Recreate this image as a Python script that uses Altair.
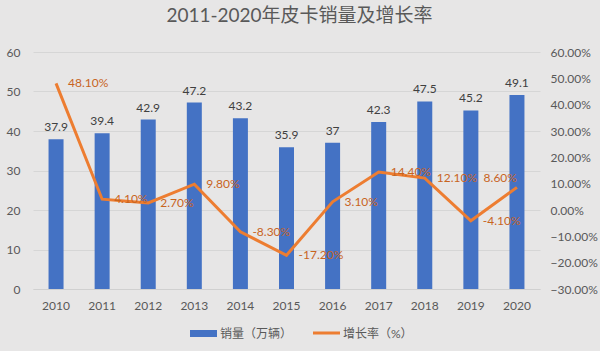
import altair as alt
import pandas as pd

years = ["2010", "2011", "2012", "2013", "2014", "2015", "2016", "2017", "2018", "2019", "2020"]
sales = [37.9, 39.4, 42.9, 47.2, 43.2, 35.9, 37, 42.3, 47.5, 45.2, 49.1]
growth = [0.481, 0.041, 0.027, 0.098, -0.083, -0.172, 0.031, 0.144, 0.121, -0.041, 0.086]
sales_labels = ["37.9", "39.4", "42.9", "47.2", "43.2", "35.9", "37", "42.3", "47.5", "45.2", "49.1"]
growth_labels = ["48.10%", "4.10%", "2.70%", "9.80%", "-8.30%", "-17.20%", "3.10%", "14.40%", "12.10%", "-4.10%", "8.60%"]
legend_names = ["销量（万辆）", "增长率（%）"]
title_text = "2011-2020年皮卡销量及增长率"

df = pd.DataFrame({"year": years, "sales": sales, "growth": growth,
                   "slab": sales_labels, "glab": growth_labels})

FONT = "Lato, Noto Sans CJK SC, sans-serif"
BLUE = "#4472C4"
ORANGE = "#ED7D31"
GREY_TXT = "#595959"

base = alt.Chart(df)

x_enc = alt.X("year:N", sort=years, title=None,
              scale=alt.Scale(paddingInner=0, paddingOuter=0),
              axis=alt.Axis(labelAngle=0, ticks=False, domain=True, domainColor="#D0D0D0",
                            labelPadding=11, labelFontSize=12, labelColor=GREY_TXT,
                            labelFont=FONT, grid=False))

y_left = alt.Y("sales:Q", title=None,
               scale=alt.Scale(domain=[0, 60], nice=False),
               axis=alt.Axis(values=[0, 10, 20, 30, 40, 50, 60], ticks=False, domain=False,
                             labelPadding=13, labelFontSize=12, labelColor=GREY_TXT,
                             labelFont=FONT, grid=True, gridColor="#D6D6D6", gridWidth=1))

y_right = alt.Y("growth:Q", title=None,
                scale=alt.Scale(domain=[-0.3, 0.6], nice=False),
                axis=alt.Axis(orient="right", format=".2%",
                              values=[-0.3, -0.2, -0.1, 0, 0.1, 0.2, 0.3, 0.4, 0.5, 0.6],
                              ticks=False, domain=False, grid=False,
                              labelPadding=10, labelFontSize=12, labelColor=GREY_TXT,
                              labelFont=FONT))

bars = base.mark_bar(color=BLUE, size=15).encode(x=x_enc, y=y_left)
bar_text = base.mark_text(baseline="bottom", dy=-5, fontSize=12, color="#404040",
                          font=FONT).encode(x=x_enc, y=y_left, text="slab:N")

line = base.mark_line(color=ORANGE, strokeWidth=3).encode(x=x_enc, y=y_right)
line_text = base.transform_filter(alt.datum.year != years[-1]).mark_text(
    align="left", baseline="middle", dx=12, fontSize=12,
    color="#C8641E", font=FONT).encode(x=x_enc, y=y_right, text="glab:N")
line_text_last = base.transform_filter(alt.datum.year == years[-1]).mark_text(
    align="right", baseline="middle", dx=0, dy=-9, fontSize=12,
    color="#C8641E", font=FONT).encode(x=x_enc, y=y_right, text="glab:N")

leg_df = pd.DataFrame({"name": legend_names})
leg_rect = alt.Chart(leg_df).transform_filter(alt.datum.name == legend_names[0]).mark_rect(
    color=BLUE).encode(x=alt.value(157), x2=alt.value(184), y=alt.value(278), y2=alt.value(285))
leg_rect_text = alt.Chart(leg_df).transform_filter(alt.datum.name == legend_names[0]).mark_text(
    align="left", baseline="middle", fontSize=12, color=GREY_TXT, font=FONT).encode(
    x=alt.value(187), y=alt.value(282), text="name:N")
leg_line = alt.Chart(leg_df).transform_filter(alt.datum.name == legend_names[1]).mark_rule(
    color=ORANGE, strokeWidth=3).encode(x=alt.value(280), x2=alt.value(307), y=alt.value(281))
leg_line_text = alt.Chart(leg_df).transform_filter(alt.datum.name == legend_names[1]).mark_text(
    align="left", baseline="middle", fontSize=12, color=GREY_TXT, font=FONT).encode(
    x=alt.value(310), y=alt.value(282), text="name:N")

chart = alt.layer(
    alt.layer(bars, bar_text),
    alt.layer(line, line_text, line_text_last),
    leg_rect, leg_rect_text, leg_line, leg_line_text,
).resolve_scale(y="independent").properties(
    width=507, height=237,
    autosize=alt.AutoSizeParams(type="none"),
    padding={"left": 33, "top": 52, "right": 60, "bottom": 62},
    background="#E7E6E6",
    title=alt.TitleParams(title_text, anchor="middle", dx=13, offset=20, fontSize=19,
                          font=FONT, color=GREY_TXT, fontWeight="normal"),
).configure_view(stroke=None)

chart.save("out.html", embed_options={"renderer": "svg", "actions": False})
